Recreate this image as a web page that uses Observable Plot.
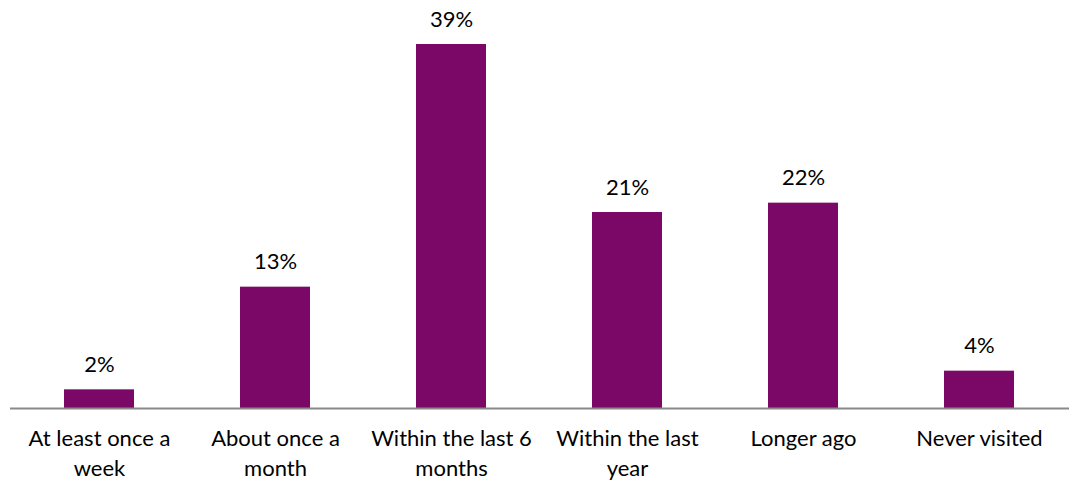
<!DOCTYPE html>
<html>
<head>
<meta charset="utf-8">
<script src="https://cdn.jsdelivr.net/npm/d3@7"></script>
<script src="https://cdn.jsdelivr.net/npm/@observablehq/plot@0.6"></script>
<style>
  html, body { margin: 0; padding: 0; background: #fff; }
  #chart svg { display: block; }
</style>
</head>
<body>
<div id="chart"></div>
<script>
const categories = ["At least once a\nweek", "About once a\nmonth", "Within the last 6\nmonths", "Within the last\nyear", "Longer ago", "Never visited"];
const values = [2, 13, 39, 21, 22, 4];
const valueLabels = ["2%", "13%", "39%", "21%", "22%", "4%"];

const data = categories.map((c, i) => ({category: c, value: values[i], label: valueLabels[i]}));

const chart = Plot.plot({
  width: 1069,
  height: 489,
  marginLeft: 10,
  marginRight: 0,
  marginTop: 44,
  marginBottom: 81,
  style: {fontFamily: "Lato, 'Open Sans', sans-serif", fontSize: "22px", color: "#000", background: "#fff"},
  x: {domain: categories, paddingInner: 0.6, paddingOuter: 0.3, label: null},
  y: {domain: [0, 39], axis: null},
  marks: [
    Plot.barY(data, {x: "category", y: "value", fill: "#7b0766"}),
    Plot.text(data, {x: "category", y: "value", text: "label", dy: -25, fontSize: 22, fill: "#000"}),
    Plot.ruleY([0], {stroke: "#898989", strokeWidth: 2}),
    Plot.axisX({tickSize: 0, tickPadding: 16, fontSize: 22, lineHeight: 1.38, fill: "#000", label: null})
  ]
});
document.getElementById("chart").appendChild(chart);
</script>
</body>
</html>
